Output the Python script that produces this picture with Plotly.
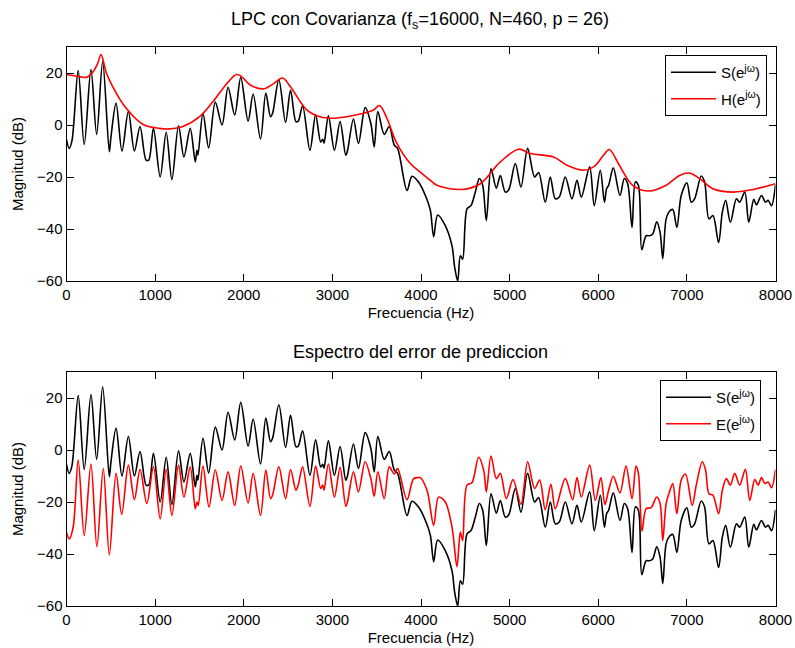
import plotly.graph_objects as go

# ---- data ----
s_freq = [0, 30, 62, 132, 200, 276, 340, 408, 483, 502, 559, 626, 698, 766, 830, 898, 928, 981,
          1057, 1125, 1189, 1264, 1325, 1396, 1453, 1472, 1483, 1540, 1604, 1679, 1755, 1823, 1898,
          1966, 2049, 2106, 2189, 2249, 2302, 2325, 2396, 2472, 2528, 2589, 2615, 2664, 2747, 2811,
          2868, 2891, 2906, 2955, 3023, 3087, 3151, 3170, 3238, 3294, 3370, 3434, 3472, 3513, 3585,
          3642, 3698, 3736, 3842, 3898, 3974, 4060, 4106, 4143, 4188, 4274, 4350, 4380, 4414, 4444,
          4470, 4519, 4564, 4613, 4658, 4696, 4737, 4790, 4850, 4895, 4951, 4989, 5064, 5128, 5203,
          5282, 5327, 5402, 5459, 5515, 5560, 5628, 5703, 5760, 5809, 5903, 5955, 6023, 6070, 6094,
          6117, 6170, 6245, 6294, 6332, 6381, 6419, 6453, 6491, 6540, 6577, 6615, 6660, 6698, 6728,
          6766, 6804, 6841, 6887, 6936, 7000, 7049, 7087, 7162, 7200, 7249, 7294, 7358, 7400, 7438,
          7491, 7559, 7596, 7653, 7698, 7755, 7785, 7842, 7887, 7917, 7955, 8000]
s_db = [-5.5, -9.0, -6.0, 20.9, -7.5, 21.3, -3.6, 24.3, -10.3, -4.5, 8.4, -10.0, 5.2, -10.0, -0.6,
        -13.5, -13.5, -1.3, -20.0, -2.8, -21.0, -0.3, -12.3, -1.3, -14.2, -9.7, -11.6, 4.5, -8.8, 8.8,
        0.0, 14.5, 3.9, 18.3, 1.5, 11.9, -5.4, 12.3, 3.2, 4.5, 17.4, 1.0, 13.3, 1.3, 1.5, 7.4, -9.7,
        3.9, -6.5, -5.5, -7.0, 3.5, -9.7, 1.3, -11.6, -10.0, 2.3, -7.1, 6.7, 0.6, -8.4, 5.2, -3.6,
        -0.6, -7.7, -9.0, -25.2, -19.7, -22.0, -28.0, -32.9, -43.0, -34.6, -38.7, -46.5, -54.8, -60.0,
        -50.3, -51.6, -32.3, -31.0, -25.8, -20.6, -23.2, -36.8, -16.8, -24.3, -19.4, -25.8, -25.0,
        -14.8, -23.9, -9.0, -20.0, -18.3, -29.7, -20.0, -28.4, -27.7, -20.0, -28.4, -21.3, -27.7,
        -16.1, -31.0, -17.4, -29.7, -24.5, -23.2, -16.5, -27.1, -20.6, -22.6, -39.4, -21.9, -23.2,
        -48.0, -42.6, -42.6, -41.9, -37.2, -41.3, -51.4, -36.1, -33.2, -32.5, -39.4, -27.1, -22.2,
        -29.7, -28.4, -19.6, -21.9, -36.1, -34.8, -45.2, -33.5, -29.0, -37.4, -28.4, -29.7, -25.8,
        -37.4, -28.6, -30.7, -27.1, -29.7, -29.0, -31.0, -23.0]

h_freq = [0, 140, 230, 300, 350, 389, 420, 445, 521, 672, 860, 1049, 1162, 1313, 1502, 1653, 1804,
          1917, 1970, 2068, 2219, 2332, 2438, 2521, 2710, 2823, 2974, 3162, 3351, 3464, 3532, 3615,
          3728, 3879, 3992, 4106, 4180, 4462, 4669, 4895, 5102, 5233, 5496, 5647, 5835, 5948, 6060,
          6124, 6238, 6389, 6577, 6766, 6917, 7030, 7143, 7294, 7521, 7747, 8000]
h_db = [19.4, 18.6, 18.4, 20.5, 23.5, 27.1, 24.0, 20.5, 14.8, 6.5, 0.3, -1.3, -1.5, -0.6, 3.2, 9.0,
        15.7, 19.4, 18.8, 15.5, 13.9, 15.8, 18.1, 15.0, 5.8, 3.6, 2.6, 3.2, 4.5, 5.8, 7.5, 2.6, -7.1,
        -14.8, -18.1, -21.3, -23.2, -24.8, -22.6, -14.2, -9.3, -11.0, -12.3, -15.5, -17.4, -16.1,
        -11.6, -9.4, -15.5, -23.2, -25.4, -23.2, -19.4, -18.5, -20.6, -24.5, -25.8, -24.8, -22.6]

e_freq = [0, 30, 75, 132, 200, 276, 343, 415, 483, 559, 623, 698, 766, 830, 906, 981, 1057, 1125,
          1189, 1264, 1325, 1396, 1453, 1472, 1487, 1540, 1608, 1679, 1755, 1823, 1898, 1966, 2049,
          2106, 2189, 2249, 2302, 2325, 2396, 2472, 2528, 2589, 2615, 2664, 2747, 2811, 2868, 2891,
          2906, 2955, 3023, 3087, 3151, 3170, 3238, 3294, 3370, 3434, 3472, 3513, 3585, 3642, 3698,
          3736, 3842, 3917, 3974, 3992, 4068, 4143, 4199, 4274, 4350, 4406, 4444, 4470, 4519, 4575,
          4650, 4707, 4737, 4790, 4850, 4895, 4963, 5038, 5128, 5203, 5282, 5339, 5402, 5466, 5515,
          5628, 5711, 5760, 5809, 5903, 5967, 6030, 6075, 6117, 6170, 6245, 6313, 6381, 6426, 6453,
          6494, 6540, 6596, 6660, 6698, 6728, 6766, 6804, 6841, 6887, 6936, 6985, 7060, 7106, 7174,
          7211, 7249, 7294, 7358, 7400, 7445, 7491, 7540, 7596, 7660, 7709, 7766, 7804, 7842, 7879,
          7917, 7955, 8000]
e_db = [-31.6, -34.2, -29.7, -3.9, -32.9, -5.4, -37.2, -7.1, -40.3, -9.0, -24.8, -5.8, -19.1, -7.5,
        -20.6, -6.5, -26.5, -7.4, -25.2, -5.8, -18.1, -6.5, -22.6, -20.0, -21.3, -6.2, -21.9, -7.7,
        -19.4, -8.4, -21.3, -6.2, -20.4, -9.0, -25.2, -7.7, -18.7, -17.4, -6.5, -18.7, -7.5, -15.5,
        -13.5, -6.5, -21.7, -6.2, -14.8, -13.5, -15.5, -5.4, -18.1, -6.7, -21.7, -20.0, -8.4, -16.1,
        -4.5, -11.0, -17.8, -8.4, -18.7, -6.5, -9.3, -7.1, -19.1, -11.0, -10.6, -10.6, -15.5, -29.0,
        -18.1, -20.0, -29.7, -44.9, -31.6, -34.8, -13.5, -12.6, -2.8, -7.7, -16.1, -2.3, -11.0, -9.0,
        -18.7, -11.4, -20.9, -4.5, -14.8, -11.6, -23.0, -13.2, -22.6, -11.0, -19.1, -10.6, -18.1,
        -5.8, -19.4, -10.6, -21.0, -15.5, -10.1, -16.5, -6.2, -18.7, -6.2, -9.0, -31.2, -22.6, -22.2,
        -18.1, -20.6, -34.8, -20.6, -16.1, -12.9, -24.5, -11.6, -9.3, -21.3, -13.5, -4.5, -7.7, -16.8,
        -17.4, -24.5, -15.5, -11.0, -13.5, -9.0, -13.5, -7.4, -19.4, -11.4, -13.5, -10.6, -12.9,
        -12.3, -14.5, -7.5]

x_ticks = [0, 1000, 2000, 3000, 4000, 5000, 6000, 7000, 8000]
y_ticks = [-60, -40, -20, 0, 20]

title_top = "LPC con Covarianza (f<sub>s</sub>=16000, N=460, p = 26)"
title_bottom = "Espectro del error de prediccion"
x_label = "Frecuencia (Hz)"
y_label = "Magnitud (dB)"

FONT = "Liberation Sans, Arial, Helvetica, sans-serif"
W, H = 795, 648
TICK_SIZE = 15

fig = go.Figure()
lw = 1.6
fig.add_trace(go.Scatter(x=s_freq, y=s_db, mode="lines", name="S(e<sup>jω</sup>)",
                         line=dict(color="black", width=lw, shape="spline", smoothing=0.9),
                         xaxis="x", yaxis="y", legend="legend", legendgroup="a"))
fig.add_trace(go.Scatter(x=h_freq, y=h_db, mode="lines", name="H(e<sup>jω</sup>)",
                         line=dict(color="red", width=lw, shape="spline", smoothing=1.0),
                         xaxis="x", yaxis="y", legend="legend", legendgroup="b"))
fig.add_trace(go.Scatter(x=s_freq, y=s_db, mode="lines", name="S(e<sup>jω</sup>)",
                         line=dict(color="black", width=lw, shape="spline", smoothing=0.9),
                         xaxis="x2", yaxis="y2", legend="legend2", legendgroup="c"))
fig.add_trace(go.Scatter(x=e_freq, y=e_db, mode="lines", name="E(e<sup>jω</sup>)",
                         line=dict(color="red", width=lw, shape="spline", smoothing=0.9),
                         xaxis="x2", yaxis="y2", legend="legend2", legendgroup="d"))

xdom = [66.5 / W, 775.5 / W]
ydom_top = [1 - 281 / H, 1 - 47 / H]
ydom_bot = [1 - 606 / H, 1 - 372 / H]

def xax(anchor):
    return dict(domain=xdom, range=[0, 8000], tickvals=x_ticks, anchor=anchor,
                automargin=False,
                ticks="inside", ticklen=7, tickcolor="black", tickwidth=1,
                showline=True, linecolor="black", linewidth=1, mirror="ticks",
                showgrid=False, zeroline=False,
                tickfont=dict(family=FONT, size=TICK_SIZE, color="black"),
                title=dict(text=x_label, font=dict(family=FONT, size=TICK_SIZE, color="black"),
                           standoff=5))

def yax(anchor, dom):
    return dict(domain=dom, range=[-60, 30], tickvals=y_ticks, anchor=anchor,
                automargin=False,
                ticks="inside", ticklen=7, tickcolor="black", tickwidth=1,
                showline=True, linecolor="black", linewidth=1, mirror="ticks",
                showgrid=False, zeroline=False,
                tickfont=dict(family=FONT, size=TICK_SIZE, color="black"),
                title=dict(text=y_label, font=dict(family=FONT, size=TICK_SIZE, color="black"),
                           standoff=9))

legend_style = dict(bgcolor="white", bordercolor="black", borderwidth=1,
                    font=dict(family=FONT, size=15, color="black"),
                    xanchor="right", yanchor="top", itemwidth=45, tracegroupgap=4)

fig.update_layout(
    width=W, height=H, margin=dict(l=0, r=0, t=0, b=0, autoexpand=False),
    paper_bgcolor="white", plot_bgcolor="white",
    font=dict(family=FONT, size=TICK_SIZE, color="black"),
    xaxis=xax("y"), yaxis=yax("x", ydom_top),
    xaxis2=xax("y2"), yaxis2=yax("x2", ydom_bot),
    legend=dict(x=767 / W, y=1 - 55 / H, **legend_style),
    legend2=dict(x=761 / W, y=1 - 380 / H, **legend_style),
    annotations=[
        dict(text=title_top, x=420 / W, y=1 - 20 / H, xref="paper", yref="paper",
             showarrow=False, xanchor="center", yanchor="middle",
             font=dict(family=FONT, size=18, color="black")),
        dict(text=title_bottom, x=420 / W, y=1 - 352 / H, xref="paper", yref="paper",
             showarrow=False, xanchor="center", yanchor="middle",
             font=dict(family=FONT, size=18, color="black")),
    ],
)

fig.write_html("out.html")
